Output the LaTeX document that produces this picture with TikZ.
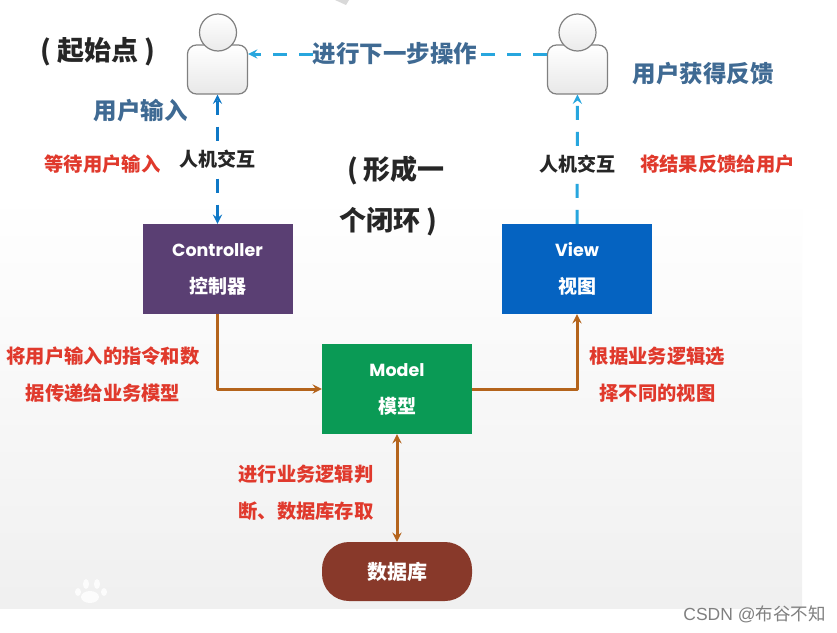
\documentclass[tikz,border=0pt]{standalone}
\usepackage{fontspec}
\setmainfont{Noto Sans CJK SC}
\newfontfamily\latinfont{Poppins}
\newfontfamily\markfont{Liberation Sans}
\usetikzlibrary{positioning}
\definecolor{ctrlpurple}{HTML}{5A3F73}
\definecolor{viewblue}{HTML}{0563C1}
\definecolor{modelgreen}{HTML}{0A9A55}
\definecolor{dbbrown}{HTML}{88392A}
\definecolor{linkorange}{HTML}{B4641C}
\definecolor{linkblue}{HTML}{0F78C6}
\definecolor{linksky}{HTML}{27A6DE}
\definecolor{notered}{HTML}{E0392C}
\definecolor{userblue}{HTML}{3F6A93}
\begin{document}
\begin{tikzpicture}[x=1pt, y=-1pt, line join=round, >=stealth,
	boxnode/.style={minimum width=150pt, minimum height=90pt, inner sep=0pt, text=white, align=center, font=\fontsize{19}{37}\selectfont\bfseries},
	redtext/.style={text=notered, inner sep=0pt, align=center, font=\fontsize{19.3}{37}\selectfont\bfseries},
	bluetext/.style={text=userblue, inner sep=0pt, font=\fontsize{23.5}{28}\selectfont\bfseries},
	bigtext/.style={text=black!85, inner sep=0pt, font=\fontsize{27}{32}\selectfont\bfseries},
	talktext/.style={text=black!85, inner sep=2pt, fill=white, font=\fontsize{19}{23}\selectfont\bfseries},
	userbody/.style={draw=black!50, line width=1.2pt, rounded corners=9pt, top color=white, bottom color=black!9, minimum width=60pt, minimum height=49pt, inner sep=0pt},
	userhead/.style={circle, draw=black!50, line width=1.2pt, top color=white, bottom color=black!8, minimum size=37pt, inner sep=0pt},
	orangelink/.style={draw=linkorange, line width=3pt},
	dashlink/.style={line width=3pt, dash pattern=on 14pt off 12pt},
	]
	\useasboundingbox (0,0) rectangle (837,632);
	\fill[white] (0,0) rectangle (837,632);
	\shade[top color=white, middle color=black!4, bottom color=black!6] (0,195) rectangle (802,608);
	\fill[black!15] (335,0) -- (349,0) -- (346,5) -- cycle; % Vệt trên cùng

	% Dấu chân mờ
	\foreach \px/\py/\rx/\ry in {90/597/9/6, 78/592/3/4, 86/584/3/5, 97/584/3/5, 104/592/3/4}
		\fill[white, opacity=.8] (\px,\py) ellipse[x radius=\rx pt, y radius=\ry pt];

	\node[userbody] (userL) at (217.5,69.5) {};
	\node[userhead] (headL) at (218,32.5) {};
	\node[userbody] (userR) at (577.5,69.5) {};
	\node[userhead] (headR) at (577.5,32.5) {};

	\node[boxnode, fill=ctrlpurple] (ctrl) at (217.5,269) {{\latinfont\fontsize{17.5}{37}\selectfont Controller}\\控制器};
	\node[boxnode, fill=viewblue] (view) at (577,269) {{\latinfont\fontsize{17.5}{37}\selectfont View}\\视图};
	\node[boxnode, fill=modelgreen] (model) at (397,389) {{\latinfont\fontsize{17.5}{37}\selectfont Model}\\模型};
	\node[boxnode, fill=dbbrown, minimum height=59pt, rounded corners=27pt, font=\fontsize{20}{24}\selectfont\bfseries] (db) at (397,571.5) {数据库};

	\node[bigtext] (startnote) at (98,52) {( 起始点 )};
	\node[bigtext] (loopone) at (396,170) {( 形成一};
	\node[bigtext] (looptwo) at (388,222) {个闭环 )};
	\node[bluetext] (stepnext) at (395,54) {进行下一步操作};
	\node[bluetext] (userin) at (140.5,111) {用户输入};
	\node[bluetext] (userback) at (703,74) {用户获得反馈};
	\node[redtext] (waitin) at (102.5,164) {等待用户输入};
	\node[redtext] (giveback) at (717.5,164) {将结果反馈给用户};
	\node[redtext] (passin) at (103,374.5) {将用户输入的指令和数\\据传递给业务模型};
	\node[redtext] (pickview) at (657.5,374.5) {根据业务逻辑选\\择不同的视图};
	\node[redtext] (dowork) at (306,492.5) {进行业务逻辑判\\断、数据库存取};
	\node[text=black!50, inner sep=0pt, font=\fontsize{17.5}{20}\selectfont] (mark) at (754.5,614) {{\markfont CSDN @}布谷不知};

	\draw[<->, draw=linkblue, dashlink] (userL) -- node[talktext] (talkL) {人机交互} (ctrl);
	\draw[->, draw=linksky, dashlink] (view) -- node[talktext, pos=.46] (talkR) {人机交互} (userR);
	\draw[draw=linksky, dashlink] (userR.west |- stepnext) -- (stepnext);
	\draw[->, draw=linksky, dashlink] (stepnext) -- (userL.east |- stepnext);

	\draw[->, orangelink] (ctrl) |- (model);
	\draw[->, orangelink] (model) -| (view);
	\draw[<->, orangelink] (model) -- (db);
\end{tikzpicture}
\end{document}
